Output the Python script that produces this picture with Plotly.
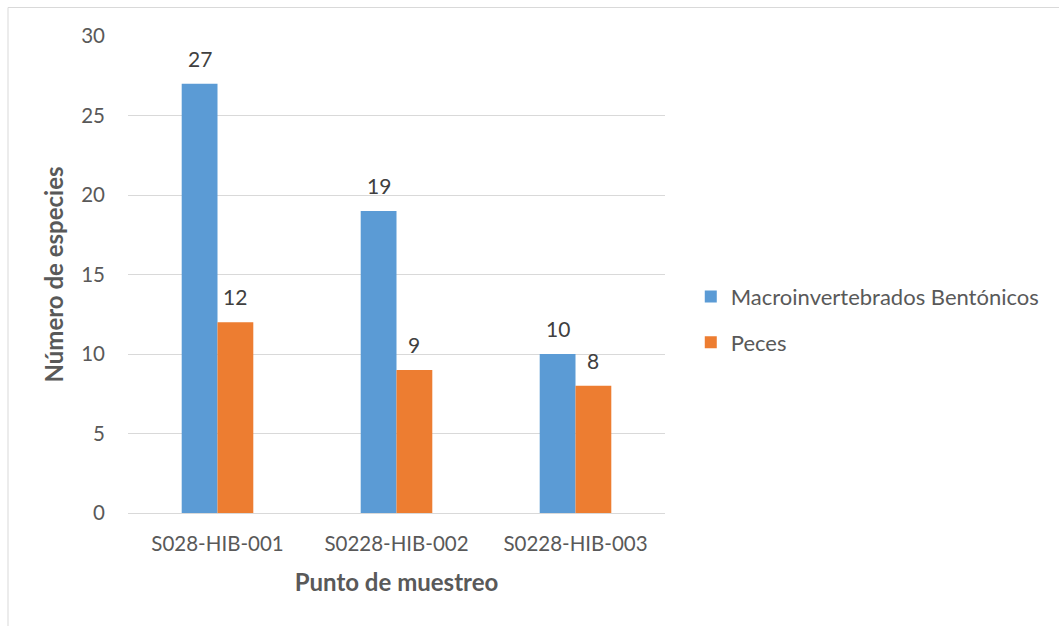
import plotly.graph_objects as go

categorias = ["S028-HIB-001", "S0228-HIB-002", "S0228-HIB-003"]
macroinvertebrados = [27, 19, 10]
peces = [12, 9, 8]
series = [
    ("Macroinvertebrados Bentónicos", macroinvertebrados, "#5B9BD5", -17.5),
    ("Peces", peces, "#ED7D31", 17.5),
]

FONT = "Lato, 'Open Sans', sans-serif"
TXT = "#595959"

fig = go.Figure()
for i, (nombre, valores, color, dx) in enumerate(series):
    fig.add_trace(go.Bar(
        x=categorias, y=valores, name=nombre,
        marker=dict(color=color, line=dict(width=0)),
        legendgroup=f"g{i}",
    ))
    for c, v in zip(categorias, valores):
        fig.add_annotation(
            x=c, y=v, text=str(v), showarrow=False,
            xshift=dx, yshift=11, yanchor="bottom",
            font=dict(family=FONT, size=21, color="#404040"),
        )

fig.update_layout(
    width=1059, height=626,
    margin=dict(l=128, r=394, t=36, b=113),
    paper_bgcolor="white", plot_bgcolor="white",
    barmode="group", bargap=0.6, bargroupgap=0,
    font=dict(family=FONT, color=TXT, size=20),
    legend=dict(
        x=1.048, y=0.405, xanchor="left", yanchor="middle",
        font=dict(family=FONT, size=22, color=TXT),
        traceorder="grouped", tracegroupgap=14,
        itemclick=False,
    ),
    xaxis=dict(
        showgrid=False, showline=True, linecolor="#D9D9D9", linewidth=1,
        ticks="", ticklabelstandoff=12,
        tickfont=dict(family=FONT, size=20.5, color=TXT),
        title=dict(text="<b>Punto de muestreo</b>", standoff=20,
                   font=dict(family=FONT, size=24, color=TXT)),
    ),
    yaxis=dict(
        range=[0, 30], dtick=5, showgrid=True, gridcolor="#D9D9D9", gridwidth=1,
        zeroline=False, showline=False, ticks="", ticklabelstandoff=22,
        tickfont=dict(family=FONT, size=20.5, color=TXT),
        title=dict(text="<b>Número de especies</b>", standoff=10,
                   font=dict(family=FONT, size=24, color=TXT)),
    ),
    shapes=[dict(
        type="rect", xref="paper", yref="paper",
        x0=(8 - 128) / 537, x1=(1070 - 128) / 537,
        y0=(513 - 640) / 477, y1=(513 - 7.5) / 477,
        line=dict(color="#D9D9D9", width=1), fillcolor="rgba(0,0,0,0)",
        layer="below",
    )],
)

fig.write_html("out.html")
